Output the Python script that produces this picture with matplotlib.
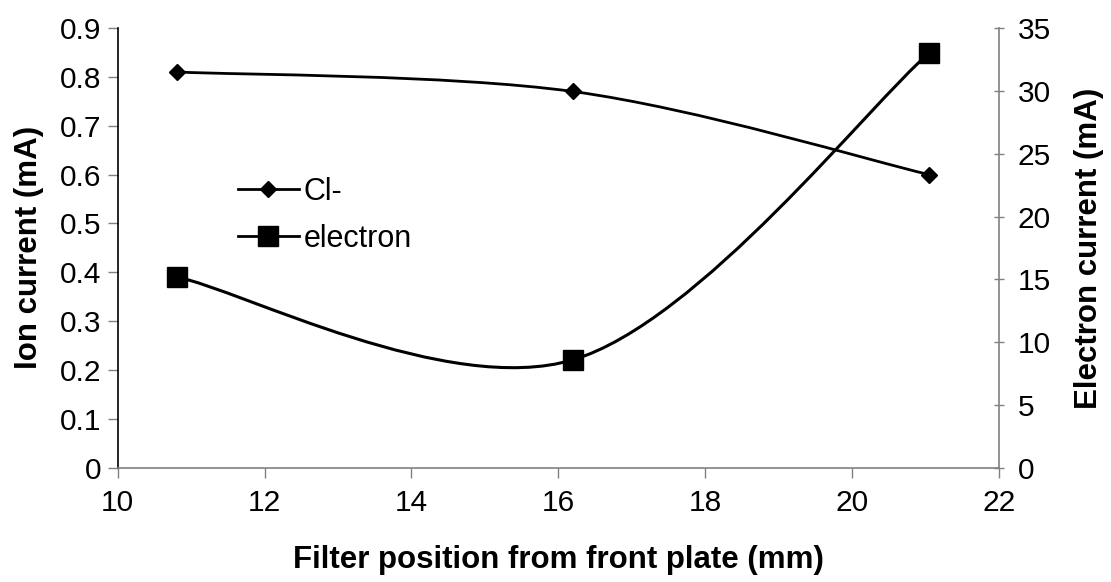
import numpy as np
import matplotlib.pyplot as plt
from matplotlib.path import Path
from matplotlib.patches import PathPatch
from matplotlib.lines import Line2D

plt.rcParams['font.family'] = ['Liberation Sans', 'DejaVu Sans']

# data
position = [10.8, 16.2, 21.05]
cl_current = [0.81, 0.77, 0.60]
electron_current = [15.2, 8.6, 33.0]

x_ticks = [10, 12, 14, 16, 18, 20, 22]
left_ticks = [0, 0.1, 0.2, 0.3, 0.4, 0.5, 0.6, 0.7, 0.8, 0.9]
right_ticks = [0, 5, 10, 15, 20, 25, 30, 35]


def smooth_path(xs, ys):
    """Excel style smoothed line: cubic bezier, catmull-rom tangents"""
    pts = np.column_stack([xs, ys]).astype(float)
    n = len(pts)
    verts = [pts[0]]
    codes = [Path.MOVETO]
    for i in range(n - 1):
        p_prev = pts[max(i - 1, 0)]
        p0 = pts[i]
        p1 = pts[i + 1]
        p_next = pts[min(i + 2, n - 1)]
        c1 = p0 + (p1 - p_prev) / 6
        c2 = p1 - (p_next - p0) / 6
        verts += [c1, c2, p1]
        codes += [Path.CURVE4] * 3
    return Path(verts, codes)


fig = plt.figure(figsize=(11.11, 5.82), dpi=100)
ax = fig.add_axes([0.106, 0.196, 0.793, 0.756])
ax2 = ax.twinx()

ax.add_patch(PathPatch(smooth_path(position, cl_current), fill=False,
                       lw=2, color='black', zorder=3))
ax.plot(position, cl_current, ls='none', marker='D', ms=8,
        color='black', zorder=4)

ax2.add_patch(PathPatch(smooth_path(position, electron_current), fill=False,
                        lw=2.2, color='black', zorder=3))
ax2.plot(position, electron_current, ls='none', marker='s', ms=14,
         color='black', zorder=4)

ax.set_xlim(10, 22)
ax.set_ylim(0, 0.9)
ax2.set_ylim(0, 35)
ax.set_xticks(x_ticks)
ax.set_yticks(left_ticks)
ax.set_yticklabels(['0' if v == 0 else '%.1f' % v for v in left_ticks])
ax2.set_yticks(right_ticks)

for a in (ax, ax2):
    a.spines['top'].set_visible(False)
ax.spines['right'].set_visible(False)
ax2.spines['left'].set_visible(False)
ax2.spines['bottom'].set_visible(False)
ax.spines['left'].set_color('black')
ax.spines['bottom'].set_color('#808080')
ax2.spines['right'].set_color('#808080')
for s in ('left', 'bottom'):
    ax.spines[s].set_linewidth(1.2)
ax2.spines['right'].set_linewidth(1.2)

ax.tick_params(axis='both', labelsize=21.5, length=7, width=1, color='#808080')
ax.tick_params(axis='x', pad=8)
ax.tick_params(axis='y', pad=5)
ax2.tick_params(axis='y', labelsize=21.5, length=7, width=1, color='#808080',
                direction='inout', pad=10)

ax.set_xlabel('Filter position from front plate (mm)', fontsize=22.5,
              fontweight='bold', labelpad=20)
ax.set_ylabel('Ion current (mA)', fontsize=22.5, fontweight='bold', labelpad=11)
ax2.set_ylabel('Electron current (mA)', fontsize=22.5, fontweight='bold',
               labelpad=17)

handles = [
    Line2D([], [], color='black', lw=2, marker='D', ms=8),
    Line2D([], [], color='black', lw=2, marker='s', ms=14),
]
ax.legend(handles, ['Cl-', 'electron'], loc='upper left',
          bbox_to_anchor=(0.105, 0.724), frameon=False, fontsize=22,
          handlelength=2.0, handletextpad=0.15, labelspacing=0.55)

fig.savefig('out.png', dpi=100)
